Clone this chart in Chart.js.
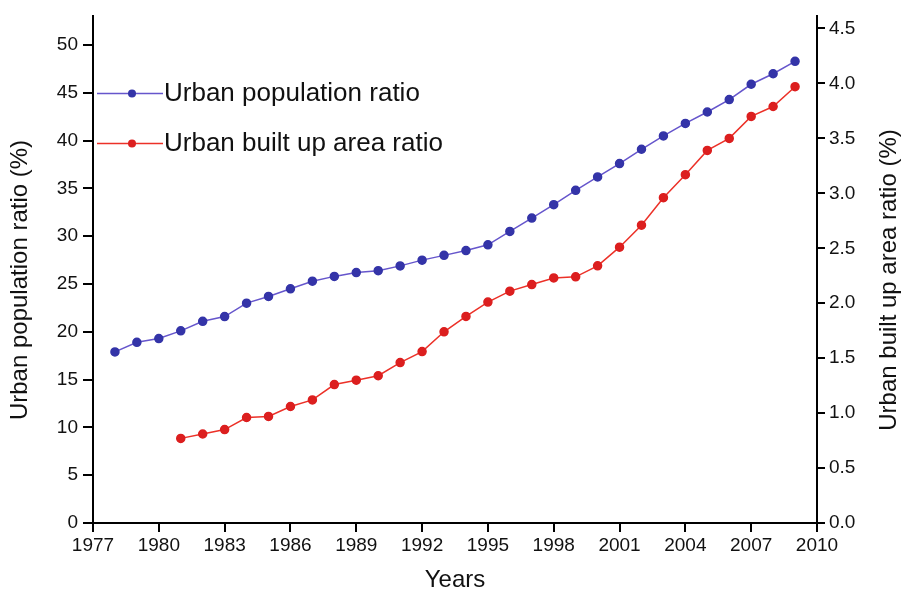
<!DOCTYPE html>
<html>
<head>
<meta charset="utf-8">
<script src="https://cdn.jsdelivr.net/npm/chart.js@4.4.1/dist/chart.umd.min.js"></script>
<style>
    html, body { margin: 0; padding: 0; background: #fff; }
    #wrap { position: relative; width: 902px; height: 595px; }
</style>
</head>
<body>
<div id="wrap"><canvas id="urbanChart"></canvas></div>
<script>
// Data
const popYears = [1978, 1979, 1980, 1981, 1982, 1983, 1984, 1985, 1986, 1987,
                  1988, 1989, 1990, 1991, 1992, 1993, 1994, 1995, 1996, 1997,
                  1998, 1999, 2000, 2001, 2002, 2003, 2004, 2005, 2006, 2007,
                  2008, 2009];
const popRatio = [17.9, 18.9, 19.3, 20.1, 21.1, 21.6, 23.0, 23.7, 24.5, 25.3,
                  25.8, 26.2, 26.4, 26.9, 27.5, 28.0, 28.5, 29.1, 30.5, 31.9,
                  33.3, 34.8, 36.2, 37.6, 39.1, 40.5, 41.8, 43.0, 44.3, 45.9,
                  47.0, 48.3];
const builtYears = [1981, 1982, 1983, 1984, 1985, 1986, 1987, 1988, 1989, 1990,
                    1991, 1992, 1993, 1994, 1995, 1996, 1997, 1998, 1999, 2000,
                    2001, 2002, 2003, 2004, 2005, 2006, 2007, 2008, 2009];
const builtRatio = [0.77, 0.81, 0.85, 0.96, 0.97, 1.06, 1.12, 1.26, 1.30, 1.34,
                    1.46, 1.56, 1.74, 1.88, 2.01, 2.11, 2.17, 2.23, 2.24, 2.34,
                    2.51, 2.71, 2.96, 3.17, 3.39, 3.50, 3.70, 3.79, 3.97];

const seriesNames = ['Urban population ratio', 'Urban built up area ratio'];
const axisTitles = {
    x: 'Years',
    yLeft: 'Urban population ratio (%)',
    yRight: 'Urban built up area ratio (%)'
};

const FONT = '"Liberation Sans", Arial, sans-serif';
const BLUE_LINE = '#6656cc';
const BLUE_DOT = '#3434a8';
const RED_LINE = '#ec3128';
const RED_DOT = '#dc1f1f';

function toPoints(xs, ys) {
    return xs.map((x, i) => ({ x: x, y: ys[i] }));
}

// Axis titles + in-plot legend
const decorPlugin = {
    id: 'decor',
    afterDraw(chart) {
        const ctx = chart.ctx;
        const area = chart.chartArea;
        ctx.save();
        ctx.fillStyle = '#111';
        ctx.font = '24px ' + FONT;
        ctx.textAlign = 'center';
        ctx.textBaseline = 'middle';

        ctx.fillText(axisTitles.x, (area.left + area.right) / 2, 580);

        ctx.save();
        ctx.translate(20, 280);
        ctx.rotate(-Math.PI / 2);
        ctx.fillText(axisTitles.yLeft, 0, 0);
        ctx.restore();

        ctx.save();
        ctx.translate(889, 280);
        ctx.rotate(-Math.PI / 2);
        ctx.fillText(axisTitles.yRight, 0, 0);
        ctx.restore();

        // legend
        const items = [
            { label: seriesNames[0], line: BLUE_LINE, dot: BLUE_DOT, y: area.top + 77 },
            { label: seriesNames[1], line: RED_LINE, dot: RED_DOT, y: area.top + 127 }
        ];
        ctx.font = '26px ' + FONT;
        items.forEach(item => {
            ctx.strokeStyle = item.line;
            ctx.lineWidth = 1.5;
            ctx.beginPath();
            ctx.moveTo(area.left + 4, item.y);
            ctx.lineTo(area.left + 70, item.y);
            ctx.stroke();
            ctx.fillStyle = item.dot;
            ctx.beginPath();
            ctx.arc(area.left + 39, item.y, 4, 0, Math.PI * 2);
            ctx.fill();
            ctx.fillStyle = '#111';
            ctx.textAlign = 'left';
            ctx.fillText(item.label, area.left + 71, item.y);
        });
        ctx.restore();
    }
};

const tickFont = { family: FONT, size: 19 };

new Chart(document.getElementById('urbanChart'), {
    type: 'line',
    data: {
        datasets: [
            {
                label: seriesNames[0],
                data: toPoints(popYears, popRatio),
                yAxisID: 'yLeft',
                borderColor: BLUE_LINE,
                borderWidth: 1.5,
                pointBackgroundColor: BLUE_DOT,
                pointBorderColor: BLUE_DOT,
                pointRadius: 4,
                tension: 0
            },
            {
                label: seriesNames[1],
                data: toPoints(builtYears, builtRatio),
                yAxisID: 'yRight',
                borderColor: RED_LINE,
                borderWidth: 1.5,
                pointBackgroundColor: RED_DOT,
                pointBorderColor: RED_DOT,
                pointRadius: 4,
                tension: 0
            }
        ]
    },
    options: {
        responsive: true,
        maintainAspectRatio: false,
        animation: false,
        layout: { padding: { top: 10, left: 0, right: 0, bottom: 0 } },
        plugins: {
            legend: { display: false },
            tooltip: { enabled: false }
        },
        scales: {
            x: {
                type: 'linear',
                min: 1977,
                max: 2010,
                grid: { drawOnChartArea: false, color: '#000', lineWidth: 2, tickLength: 9 },
                border: { color: '#000', width: 2 },
                ticks: {
                    stepSize: 3,
                    color: '#111',
                    font: tickFont,
                    padding: 2,
                    maxRotation: 0,
                    callback: v => String(v)
                },
                afterFit: s => { s.height = 72; }
            },
            yLeft: {
                type: 'linear',
                position: 'left',
                min: 0,
                max: 53,
                grid: { drawOnChartArea: false, color: '#000', lineWidth: 2, tickLength: 10 },
                border: { color: '#000', width: 2 },
                ticks: {
                    stepSize: 5,
                    includeBounds: false,
                    color: '#111',
                    font: tickFont,
                    padding: 5
                },
                afterFit: s => { s.width = 93; }
            },
            yRight: {
                type: 'linear',
                position: 'right',
                min: 0,
                max: 4.61,
                grid: { drawOnChartArea: false, color: '#000', lineWidth: 2, tickLength: 8 },
                border: { color: '#000', width: 2 },
                ticks: {
                    stepSize: 0.5,
                    includeBounds: false,
                    color: '#111',
                    font: tickFont,
                    padding: 4,
                    callback: v => Number(v).toFixed(1)
                },
                afterFit: s => { s.width = 85; }
            }
        }
    },
    plugins: [decorPlugin]
});
</script>
</body>
</html>
